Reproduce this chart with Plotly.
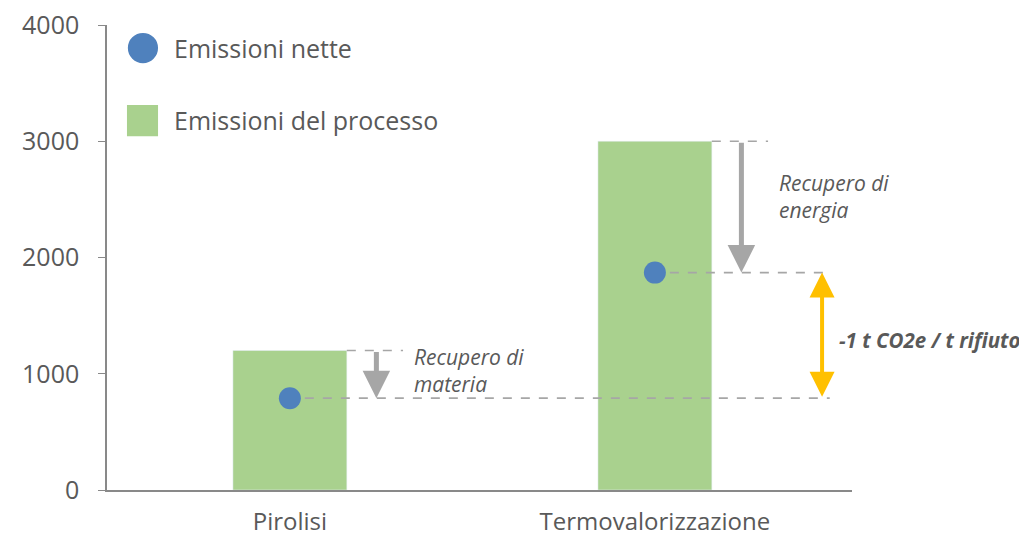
import plotly.graph_objects as go

categories = ["Pirolisi", "Termovalorizzazione"]
emissioni_processo = [1200, 3000]
emissioni_nette = [790, 1870]
recupero_labels = ["Recupero di<br>materia", "Recupero di<br>energia"]
delta_label = "-1 t CO2e / t rifiuto"
y_ticks = [0, 1000, 2000, 3000, 4000]

GREEN = "#A9D18E"
BLUE = "#4F81BD"
GREY = "#A6A6A6"
TEXT = "#595959"
ORANGE = "#FFC000"
FONT = "Open Sans"

x_pos = list(range(len(categories)))
bar_w = 0.312

fig = go.Figure()
fig.add_trace(go.Bar(x=x_pos, y=emissioni_processo, width=bar_w, marker_color=GREEN,
                     name="Emissioni del processo", showlegend=False))
fig.add_trace(go.Scatter(x=x_pos, y=emissioni_nette, mode="markers",
                         marker=dict(size=22, color=BLUE), name="Emissioni nette",
                         showlegend=False))

shapes = []
annotations = []
dash = dict(color=GREY, width=1.6, dash="dash")
right_end = 1.479
for i, (top, net) in enumerate(zip(emissioni_processo, emissioni_nette)):
    # dashed line at bar top
    shapes.append(dict(type="line", xref="x", yref="y", x0=i + bar_w / 2, x1=i + 0.31,
                       y0=top, y1=top, line=dash))
    # dashed line at net value
    shapes.append(dict(type="line", xref="x", yref="y", x0=i + 0.041, x1=right_end,
                       y0=net, y1=net, line=dash))
    # grey arrow for recovered emissions
    annotations.append(dict(x=i + 0.237, y=net, ax=i + 0.237, ay=top, xref="x", yref="y",
                            axref="x", ayref="y", text="", showarrow=True, arrowhead=2,
                            arrowsize=1.1, arrowwidth=5, arrowcolor=GREY))
    annotations.append(dict(x=i + 0.335, y=(top + net) / 2 + (top - net) * 0.08, xref="x", yref="y",
                            text=recupero_labels[i], showarrow=False, xanchor="left",
                            yanchor="middle", align="left",
                            font=dict(family=FONT, size=21, color=TEXT, style="italic")))

# orange double arrow between net values
annotations.append(dict(x=1.458, y=emissioni_nette[1], ax=1.458, ay=emissioni_nette[0],
                        xref="x", yref="y", axref="x", ayref="y", text="", showarrow=True,
                        arrowhead=2, startarrowhead=2, arrowside="end+start", arrowsize=1.25,
                        startarrowsize=1.25, arrowwidth=4, arrowcolor=ORANGE))
annotations.append(dict(x=1.5, y=(emissioni_nette[0] + emissioni_nette[1]) / 2 - 40,
                        xref="x", yref="y", text="<b>" + delta_label + "</b>",
                        showarrow=False, xanchor="left", yanchor="middle",
                        font=dict(family=FONT, size=20.5, color=TEXT, style="italic")))

# manual legend
shapes.append(dict(type="circle", xref="paper", yref="paper", x0=0.028, x1=0.0685,
                   y0=0.918, y1=0.983, fillcolor=BLUE, line_width=0))
shapes.append(dict(type="rect", xref="paper", yref="paper", x0=0.0268, x1=0.0685,
                   y0=0.761, y1=0.828, fillcolor=GREEN, line_width=0))
annotations.append(dict(x=0.087, y=0.9505, xref="paper", yref="paper", text="Emissioni nette",
                        showarrow=False, xanchor="left", yanchor="middle",
                        font=dict(family=FONT, size=25, color=TEXT)))
annotations.append(dict(x=0.087, y=0.7957, xref="paper", yref="paper",
                        text="Emissioni del processo", showarrow=False, xanchor="left",
                        yanchor="middle", font=dict(family=FONT, size=25, color=TEXT)))

# the page body adds an 8px offset, so the figure is sized to fit the window after it
fig.update_layout(
    width=1019, height=530,
    margin=dict(l=99, r=175, t=17, b=48),
    plot_bgcolor="white", paper_bgcolor="white",
    shapes=shapes, annotations=annotations,
    font=dict(family=FONT, color=TEXT),
    xaxis=dict(range=[-0.501, 1.54], tickvals=x_pos, ticktext=categories,
               showline=True, linecolor="#898989", linewidth=1.5, ticks="",
               showgrid=False, zeroline=False, tickfont=dict(size=24, color=TEXT),
               ticklabelstandoff=9, automargin=False, ticklabeloverflow="allow"),
    yaxis=dict(range=[0, 4000], tickvals=y_ticks, showline=True, linecolor="#898989",
               linewidth=1.5, ticks="outside", ticklen=7, tickcolor="#898989",
               showgrid=False, zeroline=False, tickfont=dict(size=25, color=TEXT),
               ticklabelstandoff=14, automargin=False, ticklabeloverflow="allow"),
)

fig.write_html("out.html")
